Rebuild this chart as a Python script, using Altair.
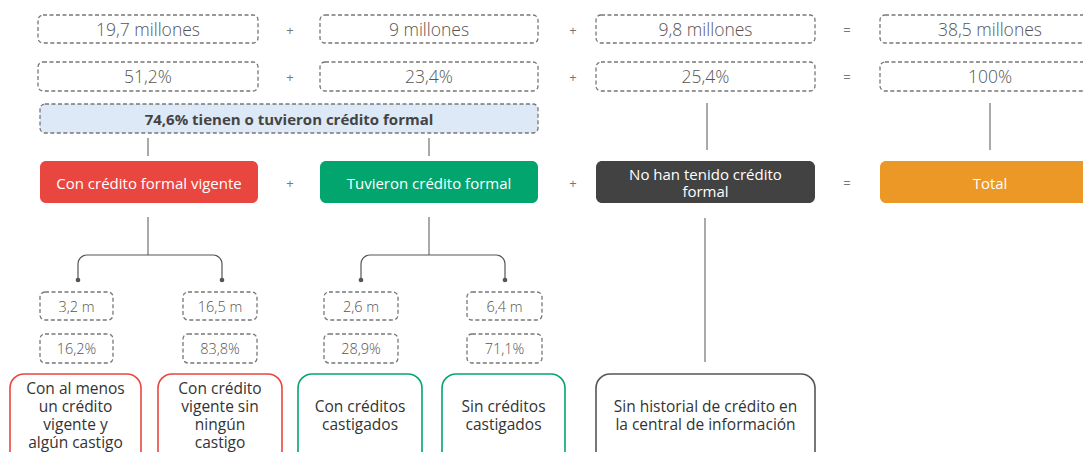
import altair as alt
import pandas as pd
import numpy as np

# ---------------- data (texts / values) ----------------
totales_millones = ["19,7 millones", "9 millones", "9,8 millones", "38,5 millones"]
totales_pct = ["51,2%", "23,4%", "25,4%", "100%"]
categorias = ["Con crédito formal vigente", "Tuvieron crédito formal",
              "No han tenido crédito\nformal", "Total"]
operadores = ["+", "+", "="]
resumen = "74,6% tienen o tuvieron crédito formal"
sub_millones = ["3,2 m", "16,5 m", "2,6 m", "6,4 m"]
sub_pct = ["16,2%", "83,8%", "28,9%", "71,1%"]
sub_categorias = ["Con al menos\nun crédito\nvigente y\nalgún castigo",
                  "Con crédito\nvigente sin\nningún\ncastigo",
                  "Con créditos\ncastigados",
                  "Sin créditos\ncastigados",
                  "Sin historial de crédito en\nla central de información"]

# ---------------- layout / styles ----------------
FONT = "Open Sans"
W, H = 1075, 444
X0, Y0 = 8, 8
xs = alt.Scale(domain=[X0, X0 + W], nice=False, zero=False)
ys = alt.Scale(domain=[Y0, Y0 + H], reverse=True, nice=False, zero=False)

col_x1 = [38, 320, 596, 880]
col_x2 = [258, 538, 815, 1105]
col_c = [148, 429, 705.5, 990]
op_x = [290, 573, 847]
row1 = (15, 43)
row2 = (62, 91)
rowb = (104, 133)
row4 = (161, 203)
cat_colors = ["#e8463f", "#03a56f", "#424242", "#eb9826"]

sub_x1 = [40, 183, 324, 467]
sub_x2 = [113, 257, 398, 542]
sub_c = [(a + b) / 2 for a, b in zip(sub_x1, sub_x2)]
row5 = (292, 320)
row6 = (334, 363)
bot_x1 = [10, 158, 298, 442, 596]
bot_x2 = [141, 282, 422, 565, 815]
bot_colors = ["#e8463f", "#e8463f", "#03a56f", "#03a56f", "#555555"]
row7 = (374, 466)

GREY = "#777777"
LINE = "#555555"


def X(f):
    return alt.X(f, type="quantitative", scale=xs, axis=None)


def Y(f):
    return alt.Y(f, type="quantitative", scale=ys, axis=None)


def rect_layer(df, **style):
    enc = dict(x=X("x1"), x2="x2", y=Y("y1"), y2="y2")
    if "stroke" in df.columns:
        enc["stroke"] = alt.Color("stroke:N", scale=None)
    if "fill" in df.columns:
        enc["fill"] = alt.Color("fill:N", scale=None)
    return alt.Chart(df).mark_rect(clip=True, **style).encode(**enc)


def text_layer(df, **style):
    return alt.Chart(df).mark_text(font=FONT, baseline="middle", align="center", dy=1.5,
                                   **style).encode(x=X("x"), y=Y("y"), text="t:N")


def first_line_y(center, texts, lh):
    return [center - (t.count("\n")) / 2 * lh for t in texts]


layers = []

# dashed boxes
dash_rows = []
for i in range(4):
    dash_rows.append(dict(x1=col_x1[i], x2=col_x2[i], y1=row1[0], y2=row1[1]))
    dash_rows.append(dict(x1=col_x1[i], x2=col_x2[i], y1=row2[0], y2=row2[1]))
for i in range(4):
    dash_rows.append(dict(x1=sub_x1[i], x2=sub_x2[i], y1=row5[0], y2=row5[1]))
    dash_rows.append(dict(x1=sub_x1[i], x2=sub_x2[i], y1=row6[0], y2=row6[1]))
layers.append(rect_layer(pd.DataFrame(dash_rows), fill="white", stroke=GREY,
                         strokeDash=[4, 2.5], strokeWidth=1.3, cornerRadius=5))

# blue summary box
layers.append(rect_layer(pd.DataFrame([dict(x1=40, x2=538, y1=rowb[0], y2=rowb[1])]),
                         fill="#dde9f6", stroke=GREY, strokeDash=[4, 2.5],
                         strokeWidth=1.3, cornerRadius=5))

# colored category boxes
cat_df = pd.DataFrame(dict(x1=[40, 320, 596, 880], x2=col_x2, y1=row4[0], y2=row4[1],
                           fill=cat_colors))
layers.append(rect_layer(cat_df, cornerRadius=6))

# bottom outlined boxes
bot_df = pd.DataFrame(dict(x1=bot_x1, x2=bot_x2, y1=row7[0], y2=row7[1], stroke=bot_colors))
layers.append(rect_layer(bot_df, fill="white", strokeWidth=1.6, cornerRadius=14))

# connector lines
seg = pd.DataFrame(dict(
    x1=[148, 429, 707, 990, 148, 429, 705],
    y1=[138, 138, 103, 103, 217, 217, 218],
    y2=[156, 156, 150, 150, 255, 255, 362],
))
layers.append(alt.Chart(seg).mark_rule(color=LINE, strokeWidth=1).encode(
    x=X("x1"), y=Y("y1"), y2="y2"))

# brackets with rounded corners
br = []
r = 9
for g, (xl, xr) in enumerate([(78, 222), (361, 505)]):
    yt, yb = 255, 280
    pts = [(xl, yb)]
    for a in np.linspace(np.pi, 1.5 * np.pi, 8):
        pts.append((xl + r + r * np.cos(a), yt + r + r * np.sin(a)))
    for a in np.linspace(1.5 * np.pi, 2 * np.pi, 8):
        pts.append((xr - r + r * np.cos(a), yt + r + r * np.sin(a)))
    pts.append((xr, yb))
    for k, (px, py) in enumerate(pts):
        br.append(dict(g=g, i=k, x=px, y=py))
br_df = pd.DataFrame(br)
layers.append(alt.Chart(br_df).mark_line(color=LINE, strokeWidth=1.2).encode(
    x=X("x"), y=Y("y"), detail="g:N", order="i:Q"))
dots = pd.DataFrame(dict(x=[78, 222, 361, 505], y=[280] * 4))
layers.append(alt.Chart(dots).mark_circle(color=LINE, size=22, opacity=1).encode(
    x=X("x"), y=Y("y")))

# texts
t1 = pd.DataFrame(dict(x=col_c, y=(row1[0] + row1[1]) / 2, t=totales_millones))
t2 = pd.DataFrame(dict(x=col_c, y=(row2[0] + row2[1]) / 2, t=totales_pct))
layers.append(text_layer(pd.concat([t1, t2]), fontSize=17.5, color="#555555", fontWeight=300))

ops = []
for yy in [(row1[0] + row1[1]) / 2, (row2[0] + row2[1]) / 2, (row4[0] + row4[1]) / 2]:
    for ox, o in zip(op_x, operadores):
        ops.append(dict(x=ox, y=yy, t=o))
layers.append(text_layer(pd.DataFrame(ops), fontSize=13, color=GREY))

layers.append(text_layer(pd.DataFrame([dict(x=289, y=118.5, t=resumen)]),
                         fontSize=15, fontWeight="bold", color="#444444"))

t4 = pd.DataFrame(dict(x=[149, 429, 705.5, 990],
                       y=first_line_y(182, categorias, 17), t=categorias))
layers.append(text_layer(t4, fontSize=15, color="white", lineBreak="\n", lineHeight=17))

t5 = pd.DataFrame(dict(x=sub_c, y=(row5[0] + row5[1]) / 2, t=sub_millones))
t6 = pd.DataFrame(dict(x=sub_c, y=(row6[0] + row6[1]) / 2, t=sub_pct))
layers.append(text_layer(pd.concat([t5, t6]), fontSize=14.5, color="#555555", fontWeight=300))

t7 = pd.DataFrame(dict(x=[(a + b) / 2 for a, b in zip(bot_x1, bot_x2)],
                       y=first_line_y(414, sub_categorias, 18), t=sub_categorias))
layers.append(text_layer(t7, fontSize=15.5, color="#333333", lineBreak="\n", lineHeight=18))

chart = alt.layer(*layers).properties(
    width=W, height=H, padding=0, background="white",
    autosize=alt.AutoSizeParams(type="none"),
).configure_view(stroke=None)

chart.save("out.html", embed_options={"renderer": "svg", "actions": False})
